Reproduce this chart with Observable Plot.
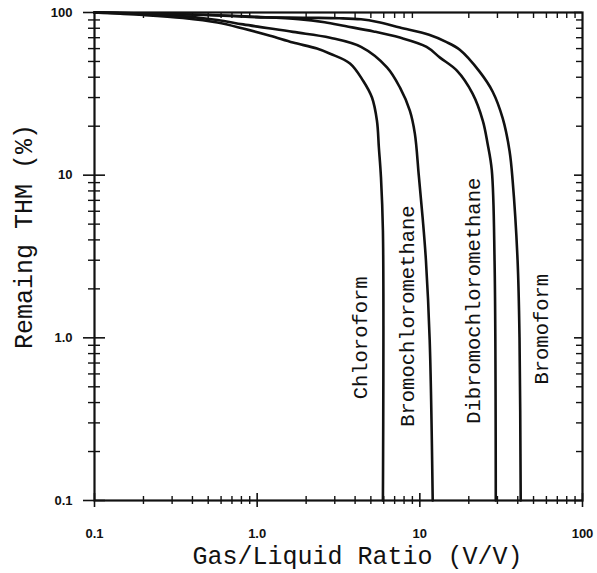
<!DOCTYPE html>
<html><head><meta charset="utf-8">
<script src="https://cdn.jsdelivr.net/npm/d3@7"></script>
<script src="https://cdn.jsdelivr.net/npm/@observablehq/plot@0.6"></script>
<style>html,body{margin:0;padding:0;background:#fff}svg{display:block}</style>
</head><body><div id="chart"></div>
<script>
// ---- data ----
const compounds = ["Chloroform", "Bromochloromethane", "Dibromochloromethane", "Bromoform"];

const chloroformX = [0.1, 0.2, 0.35, 0.57, 0.82, 1.2, 1.66, 2.33, 2.81, 3.72, 4.47, 5.08, 5.45, 5.6, 5.77, 5.93, 5.93];
const chloroformY = [100, 96.5, 92.5, 86.8, 79.7, 72, 65.4, 60, 55.8, 48.6, 38.2, 30.0, 21.6, 14.8, 9.66, 4.55, 0.1];

const bromochloroX = [0.1, 0.3, 0.57, 0.82, 1.66, 2.81, 4.35, 6.28, 7.54, 8.68, 9.32, 9.85, 10.4, 10.9, 11.5, 12.0];
const bromochloroY = [100, 96, 90, 84.5, 76, 70, 61.5, 46.0, 34.6, 24.9, 18.0, 10.0, 5.5, 3.0, 0.96, 0.1];

const dibromochloroX = [0.1, 0.5, 1.0, 1.8, 2.6, 3.47, 5.2, 7.54, 11.0, 13.3, 16.9, 21.1, 24.4, 26.1, 27.7, 28.8, 29.3];
const dibromochloroY = [100, 96.5, 94, 91, 87, 82.5, 76.5, 70.1, 61.5, 52.8, 43.9, 31.7, 21.6, 15.6, 10.7, 2.98, 0.1];

const bromoformX = [0.1, 0.5, 0.9, 2.0, 3.2, 4.35, 5.5, 7.54, 11.4, 14.5, 17.6, 23.3, 28.0, 32.3, 35.6, 37.2, 39.9, 41.0, 41.7];
const bromoformY = [100, 96.5, 93.8, 92.8, 92.2, 90.8, 87.5, 80.9, 73, 66, 59, 43.3, 32.7, 22.4, 14.1, 9.25, 2.98, 1.0, 0.1];

const labelX = [4.29, 8.44, 21.4, 56.0];
const labelY = [1.0, 1.36, 1.69, 1.13];

const xTickValues = [0.1, 1, 10, 100];
const xTickLabels = ["0.1", "1.0", "10", "100"];
const yTickValues = [0.1, 1, 10, 100];
const yTickLabels = ["0.1", "1.0", "10", "100"];
const minorTicks = [0.2, 0.3, 0.4, 0.5, 0.6, 0.7, 0.8, 0.9, 2, 3, 4, 5, 6, 7, 8, 9, 20, 30, 40, 50, 60, 70, 80, 90];

const xTitle = "Gas/Liquid Ratio (V/V)";
const yTitle = "Remaing THM (%)";

// ---- build table ----
const seriesX = [chloroformX, bromochloroX, dibromochloroX, bromoformX];
const seriesY = [chloroformY, bromochloroY, dibromochloroY, bromoformY];
const rows = compounds.flatMap((name, i) => seriesX[i].map((x, j) => ({name, x, y: seriesY[i][j]})));
const labels = compounds.map((name, i) => ({name, x: labelX[i], y: labelY[i]}));

const W = 597, H = 573, mL = 94, mR = 15, mT = 12, mB = 73;
const fw = W - mL - mR, fh = H - mT - mB;
const mono = "'Liberation Mono', 'DejaVu Sans Mono', monospace";
const sans = "'Liberation Sans', Arial, sans-serif";

const chart = Plot.plot({
  width: W, height: H,
  marginLeft: mL, marginRight: mR, marginTop: mT, marginBottom: mB,
  x: {type: "log", domain: [0.1, 100], axis: null},
  y: {type: "log", domain: [0.1, 100], axis: null},
  style: {background: "#fff"},
  marks: [
    // minor ticks
    Plot.tickX(minorTicks, {x: d => d, insetTop: fh - 8, dy: 4, stroke: "#111", strokeWidth: 1.4}),
    Plot.tickX(minorTicks, {x: d => d, insetBottom: fh - 6, stroke: "#111", strokeWidth: 1.4}),
    Plot.tickY(minorTicks, {y: d => d, insetRight: fw - 12, dx: -6, stroke: "#111", strokeWidth: 1.4}),
    Plot.tickY(minorTicks, {y: d => d, insetLeft: fw - 6, stroke: "#111", strokeWidth: 1.4}),
    // major ticks
    Plot.tickX(xTickValues, {x: d => d, insetTop: fh - 14, dy: 7, stroke: "#111", strokeWidth: 1.6}),
    Plot.tickY(yTickValues, {y: d => d, insetRight: fw - 22, dx: -11, stroke: "#111", strokeWidth: 1.6}),
    Plot.tickY(yTickValues, {y: d => d, insetLeft: fw - 8, stroke: "#111", strokeWidth: 1.6}),
    Plot.frame({stroke: "#111", strokeWidth: 2.2}),
    // curves
    Plot.line(rows, {x: "x", y: "y", z: "name", stroke: "#111", strokeWidth: 2.6, curve: "catmull-rom"}),
    // curve labels
    Plot.text(labels, {x: "x", y: "y", text: "name", rotate: -90, fontFamily: mono, fontSize: 20.5, fill: "#111"}),
    // tick labels
    Plot.text(xTickValues, {x: d => d, text: (d, i) => xTickLabels[i], frameAnchor: "bottom", lineAnchor: "middle", textAnchor: "middle", dy: 33, fontFamily: sans, fontWeight: "bold", fontSize: 13, fill: "#111"}),
    Plot.text(yTickValues, {y: d => d, text: (d, i) => yTickLabels[i], frameAnchor: "left", textAnchor: "end", lineAnchor: "middle", dx: -22, fontFamily: sans, fontWeight: "bold", fontSize: 13, fill: "#111"}),
    // axis titles
    Plot.text([xTitle], {text: d => d, frameAnchor: "bottom", textAnchor: "middle", lineAnchor: "middle", dx: 19, dy: 55, fontFamily: mono, fontSize: 25, fill: "#111"}),
    Plot.text([yTitle], {text: d => d, frameAnchor: "left", textAnchor: "middle", lineAnchor: "middle", rotate: -90, dx: -71, dy: -20, fontFamily: mono, fontSize: 25, fill: "#111"})
  ]
});
document.getElementById("chart").appendChild(chart);
</script>
</body></html>
